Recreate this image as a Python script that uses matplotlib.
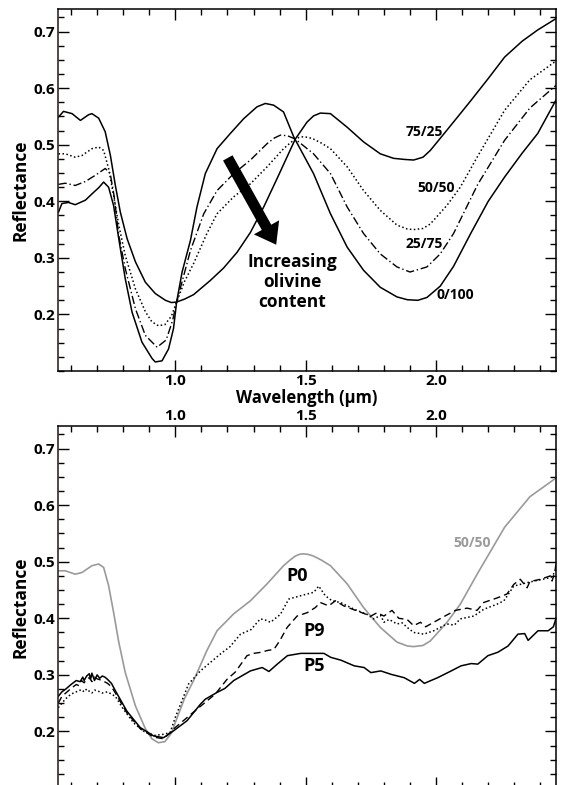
import matplotlib
matplotlib.use('Agg')
import matplotlib.pyplot as plt
from matplotlib.patches import FancyArrowPatch
from matplotlib.ticker import MultipleLocator

plt.rcParams['font.family'] = ['Open Sans', 'DejaVu Sans']
plt.rcParams['font.weight'] = 'bold'

### Laboratory mixtures (olivine/pyroxene), top panel
wl_75 = [0.552, 0.571, 0.604, 0.636, 0.667, 0.68, 0.706, 0.731, 0.751, 0.77, 0.789, 0.815, 0.847,
         0.885, 0.923, 0.962, 0.985, 1.005, 1.035, 1.07, 1.134, 1.185, 1.237, 1.288, 1.339, 1.39,
         1.428, 1.46, 1.505, 1.53, 1.556, 1.595, 1.659, 1.722, 1.786, 1.837, 1.88, 1.914, 1.95,
         1.978, 2.042, 2.093, 2.135, 2.2, 2.263, 2.33, 2.39, 2.46]
r_75 = [0.549, 0.559, 0.555, 0.543, 0.553, 0.555, 0.547, 0.523, 0.481, 0.428, 0.381, 0.334, 0.293,
        0.257, 0.237, 0.225, 0.221, 0.222, 0.227, 0.235, 0.26, 0.282, 0.31, 0.345, 0.39, 0.44,
        0.478, 0.51, 0.54, 0.551, 0.556, 0.555, 0.531, 0.505, 0.484, 0.476, 0.474, 0.473, 0.478,
        0.49, 0.526, 0.555, 0.579, 0.617, 0.655, 0.683, 0.703, 0.723]

wl_50 = [0.552, 0.578, 0.616, 0.642, 0.68, 0.706, 0.725, 0.744, 0.763, 0.783, 0.808, 0.847, 0.885,
         0.91, 0.935, 0.96, 0.985, 1.005, 1.035, 1.07, 1.121, 1.16, 1.224, 1.288, 1.352, 1.415,
         1.44, 1.46, 1.475, 1.49, 1.51, 1.53, 1.56, 1.595, 1.659, 1.722, 1.786, 1.85, 1.89,
         1.914, 1.95, 1.978, 2.042, 2.093, 2.16, 2.263, 2.36, 2.46]
r_50 = [0.484, 0.484, 0.478, 0.481, 0.493, 0.496, 0.49, 0.458, 0.411, 0.358, 0.304, 0.245, 0.205,
        0.187, 0.18, 0.182, 0.197, 0.222, 0.258, 0.29, 0.343, 0.378, 0.408, 0.431, 0.461, 0.493,
        0.503, 0.51, 0.513, 0.514, 0.513, 0.51, 0.503, 0.493, 0.461, 0.419, 0.384, 0.358, 0.351,
        0.35, 0.352, 0.36, 0.393, 0.425, 0.48, 0.561, 0.615, 0.648]

wl_25 = [0.552, 0.578, 0.616, 0.655, 0.693, 0.731, 0.75, 0.765, 0.783, 0.808, 0.847, 0.885, 0.93,
         0.965, 0.99, 1.005, 1.058, 1.109, 1.16, 1.224, 1.288, 1.352, 1.38, 1.403, 1.43, 1.46,
         1.53, 1.595, 1.659, 1.722, 1.786, 1.85, 1.90, 1.965, 2.016, 2.067, 2.16, 2.263, 2.36,
         2.46]
r_25 = [0.43, 0.432, 0.428, 0.435, 0.446, 0.458, 0.45, 0.41, 0.34, 0.281, 0.21, 0.163, 0.142,
        0.155, 0.19, 0.222, 0.313, 0.378, 0.419, 0.449, 0.473, 0.502, 0.512, 0.517, 0.516, 0.51,
        0.484, 0.449, 0.39, 0.343, 0.307, 0.284, 0.275, 0.284, 0.307, 0.343, 0.43, 0.508,
        0.565, 0.605]

wl_0 = [0.552, 0.565, 0.59, 0.616, 0.655, 0.687, 0.706, 0.725, 0.744, 0.763, 0.783, 0.808, 0.834,
        0.872, 0.911, 0.923, 0.949, 0.974, 0.993, 1.005, 1.026, 1.058, 1.083, 1.115, 1.16, 1.211,
        1.262, 1.313, 1.345, 1.377, 1.415, 1.454, 1.53, 1.595, 1.659, 1.722, 1.786, 1.85, 1.89,
        1.93, 1.965, 2.016, 2.067, 2.135, 2.2, 2.263, 2.33, 2.39, 2.46]
r_0 = [0.381, 0.396, 0.398, 0.394, 0.402, 0.416, 0.424, 0.434, 0.425, 0.393, 0.334, 0.263, 0.204,
       0.151, 0.122, 0.116, 0.118, 0.139, 0.175, 0.222, 0.275, 0.331, 0.39, 0.449, 0.493, 0.52,
       0.546, 0.567, 0.573, 0.57, 0.558, 0.514, 0.449, 0.378, 0.319, 0.278, 0.248, 0.231, 0.226,
       0.225, 0.23, 0.25, 0.285, 0.345, 0.40, 0.443, 0.485, 0.52, 0.579]

### Asteroid spectra, bottom panel
wl_p0 = [0.551, 0.565, 0.58, 0.60, 0.62, 0.64, 0.65, 0.66, 0.67, 0.68, 0.69, 0.70, 0.72, 0.74,
         0.755, 0.77, 0.80, 0.84, 0.88, 0.92, 0.955, 0.98, 1.0, 1.051, 1.096, 1.173, 1.21, 1.25,
         1.29, 1.326, 1.345, 1.365, 1.403, 1.435, 1.481, 1.531, 1.55, 1.575, 1.601, 1.633, 1.686,
         1.735, 1.76, 1.788, 1.80, 1.82, 1.85, 1.87, 1.889, 1.914, 1.953, 1.991, 2.042, 2.07,
         2.093, 2.145, 2.183, 2.234, 2.26, 2.298, 2.349, 2.388, 2.44, 2.46]
r_p0 = [0.242, 0.25, 0.258, 0.266, 0.27, 0.274, 0.27, 0.275, 0.271, 0.268, 0.273, 0.272, 0.268,
        0.27, 0.266, 0.262, 0.24, 0.215, 0.2, 0.193, 0.195, 0.198, 0.225, 0.284, 0.307, 0.337,
        0.35, 0.372, 0.38, 0.399, 0.397, 0.393, 0.407, 0.434, 0.44, 0.446, 0.457, 0.44, 0.431,
        0.428, 0.416, 0.407, 0.399, 0.405, 0.393, 0.398, 0.39, 0.392, 0.384, 0.375, 0.372,
        0.378, 0.39, 0.388, 0.399, 0.404, 0.416, 0.425, 0.431, 0.457, 0.463, 0.467, 0.472, 0.484]

wl_p9 = [0.551, 0.565, 0.58, 0.60, 0.62, 0.63, 0.64, 0.65, 0.66, 0.67, 0.68, 0.69, 0.70, 0.72,
         0.74, 0.755, 0.77, 0.814, 0.865, 0.917, 0.955, 1.0, 1.077, 1.153, 1.198, 1.23, 1.275,
         1.30, 1.33, 1.352, 1.378, 1.40, 1.429, 1.467, 1.506, 1.537, 1.556, 1.588, 1.614, 1.646,
         1.697, 1.75, 1.774, 1.80, 1.831, 1.857, 1.889, 1.914, 1.94, 1.96, 1.991, 2.042, 2.074,
         2.119, 2.157, 2.183, 2.234, 2.272, 2.298, 2.323, 2.349, 2.36, 2.40, 2.438, 2.445, 2.455,
         2.46]
r_p9 = [0.25, 0.262, 0.268, 0.276, 0.283, 0.281, 0.29, 0.286, 0.292, 0.295, 0.288, 0.296, 0.293,
        0.29, 0.285, 0.279, 0.268, 0.233, 0.205, 0.19, 0.187, 0.207, 0.237, 0.266, 0.292, 0.305,
        0.334, 0.338, 0.34, 0.343, 0.345, 0.36, 0.384, 0.404, 0.41, 0.419, 0.428, 0.422, 0.431,
        0.422, 0.413, 0.404, 0.41, 0.404, 0.414, 0.40, 0.398, 0.387, 0.393, 0.385, 0.393, 0.406,
        0.414, 0.418, 0.414, 0.428, 0.436, 0.443, 0.46, 0.469, 0.454, 0.465, 0.469, 0.475, 0.466,
        0.481, 0.496]

wl_p5 = [0.551, 0.565, 0.58, 0.60, 0.62, 0.635, 0.645, 0.65, 0.66, 0.67, 0.675, 0.68, 0.69, 0.70,
         0.71, 0.72, 0.73, 0.74, 0.755, 0.77, 0.814, 0.865, 0.917, 0.955, 0.993, 1.045, 1.096,
         1.115, 1.16, 1.19, 1.224, 1.288, 1.333, 1.359, 1.391, 1.43, 1.481, 1.57, 1.596, 1.635,
         1.686, 1.724, 1.75, 1.788, 1.827, 1.878, 1.917, 1.937, 1.955, 2.006, 2.058, 2.096,
         2.135, 2.16, 2.199, 2.237, 2.276, 2.314, 2.34, 2.353, 2.391, 2.43, 2.45, 2.46]
r_p5 = [0.262, 0.27, 0.275, 0.283, 0.29, 0.288, 0.296, 0.29, 0.298, 0.302, 0.292, 0.303, 0.29,
        0.3, 0.294, 0.298, 0.296, 0.292, 0.285, 0.272, 0.236, 0.207, 0.192, 0.189, 0.201, 0.219,
        0.248, 0.257, 0.269, 0.276, 0.29, 0.307, 0.313, 0.306, 0.319, 0.334, 0.338, 0.338, 0.331,
        0.326, 0.316, 0.313, 0.304, 0.307, 0.301, 0.295, 0.285, 0.292, 0.285, 0.295, 0.307,
        0.316, 0.32, 0.319, 0.334, 0.34, 0.351, 0.372, 0.373, 0.361, 0.378, 0.378, 0.385, 0.40]

xmin, xmax = 0.55, 2.46
ymin, ymax = 0.1, 0.74
spine_col = '#2a1414'
grey = '#9a9a9a'


def style_axes(ax):
    ax.set_xlim(xmin, xmax)
    ax.set_ylim(ymin, ymax)
    ax.xaxis.set_major_locator(MultipleLocator(0.5))
    ax.xaxis.set_minor_locator(MultipleLocator(0.1))
    ax.yaxis.set_major_locator(MultipleLocator(0.1))
    ax.yaxis.set_minor_locator(MultipleLocator(0.025))
    ax.tick_params(which='both', direction='in', top=True, right=True, width=1.0,
                   labelsize=11, pad=2)
    ax.tick_params(which='major', length=8)
    ax.tick_params(which='minor', length=4)
    for s in ax.spines.values():
        s.set_linewidth(1.1)
    ax.spines['left'].set_color(spine_col)
    ax.set_yticks([0.2, 0.3, 0.4, 0.5, 0.6, 0.7])
    ax.yaxis.set_major_formatter(plt.FuncFormatter(lambda v, p: '%.1f' % v))
    ax.xaxis.set_major_formatter(plt.FuncFormatter(lambda v, p: '%.1f' % v))
    ax.set_ylabel('Reflectance', fontsize=12.5, fontweight='bold', labelpad=3)


fig = plt.figure(figsize=(5.63, 7.85), dpi=100)
ax1 = fig.add_axes([58 / 563, 1 - 371 / 785, 498 / 563, 362 / 785])
ax2 = fig.add_axes([58 / 563, 1 - 788 / 785, 498 / 563, 362 / 785])

### Panel superior
style_axes(ax1)
ax1.plot(wl_75, r_75, color='k', lw=1.1)
ax1.plot(wl_50, r_50, color='k', lw=1.1, ls=(0, (1, 1.6)))
ax1.plot(wl_25, r_25, color='k', lw=1.0, ls=(0, (6, 2, 1, 2)))
ax1.plot(wl_0, r_0, color='k', lw=1.1)
ax1.set_xlabel('Wavelength (\u00b5m)', fontsize=12, fontweight='bold', labelpad=1)

ax1.text(1.954, 0.523, '75/25', fontsize=10, ha='center', va='center')
ax1.text(2.002, 0.423, '50/50', fontsize=10, ha='center', va='center')
ax1.text(1.954, 0.325, '25/75', fontsize=10, ha='center', va='center')
ax1.text(2.074, 0.234, '0/100', fontsize=10, ha='center', va='center')
ax1.text(1.449, 0.258, 'Increasing\nolivine\ncontent', fontsize=12.5, ha='center',
         va='center', multialignment='center', linespacing=1.15)

arr = FancyArrowPatch((1.196, 0.481), (1.392, 0.319),
                      arrowstyle='simple,head_length=1.1,head_width=1.6,tail_width=0.6',
                      mutation_scale=13, color='k', lw=0)
ax1.add_patch(arr)

### Panel inferior
style_axes(ax2)
ax2.tick_params(labelbottom=False, labeltop=True)
ax2.plot(wl_50, r_50, color=grey, lw=1.2)
ax2.plot(wl_p0, r_p0, color='k', lw=1.1, ls=(0, (1, 1.6)))
ax2.plot(wl_p9, r_p9, color='k', lw=1.0, ls=(0, (5, 3)))
ax2.plot(wl_p5, r_p5, color='k', lw=1.1)

ax2.text(1.468, 0.475, 'P0', fontsize=13, ha='center', va='center')
ax2.text(1.532, 0.378, 'P9', fontsize=13, ha='center', va='center')
ax2.text(1.532, 0.316, 'P5', fontsize=13, ha='center', va='center')
ax2.text(2.137, 0.533, '50/50', fontsize=10, ha='center', va='center', color=grey)

fig.savefig('out.png', dpi=100)
